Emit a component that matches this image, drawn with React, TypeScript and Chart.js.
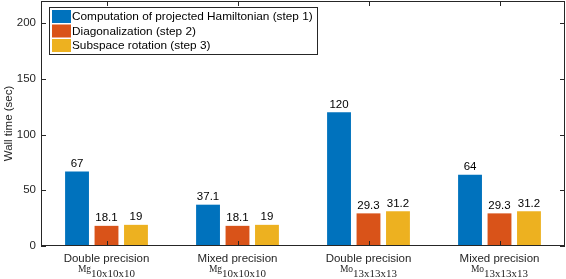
import React, { useEffect, useRef } from "react";
import { Chart, registerables } from "chart.js";

Chart.register(...registerables);

const categories = ["Double precision", "Mixed precision", "Double precision", "Mixed precision"];
const elements = ["Mg", "Mg", "Mo", "Mo"];
const sizes = ["10x10x10", "10x10x10", "13x13x13", "13x13x13"];
const seriesNames = [
  "Computation of projected Hamiltonian (step 1)",
  "Diagonalization (step 2)",
  "Subspace rotation (step 3)",
];
const step1 = [67, 37.1, 120, 64];
const step2 = [18.1, 18.1, 29.3, 29.3];
const step3 = [19, 19, 31.2, 31.2];
const yTicks = [0, 50, 100, 150, 200];
const colors = ["#0072BD", "#D95319", "#EDB120"];

const SANS = "'Liberation Sans', Arial, sans-serif";
const SERIF = "'Liberation Serif', 'Times New Roman', serif";
const AX = "#262626";

const overlay = {
  id: "overlay",
  afterDatasetsDraw(chart: any) {
    const ctx = chart.ctx;
    const { left, right, top, bottom } = chart.chartArea;
    const xs = chart.scales.x;
    const ys = chart.scales.y;
    ctx.save();
    // data labels
    ctx.fillStyle = "#000";
    ctx.font = `11.5px ${SANS}`;
    ctx.textAlign = "center";
    ctx.textBaseline = "bottom";
    chart.data.datasets.forEach((ds: any, di: number) => {
      const meta = chart.getDatasetMeta(di);
      meta.data.forEach((el: any, i: number) => {
        ctx.fillText(String(ds.data[i]), el.x, el.y - 2);
      });
    });
    // box
    ctx.strokeStyle = AX;
    ctx.lineWidth = 1;
    ctx.strokeRect(Math.round(left) + 0.5, Math.round(top) + 0.5, Math.round(right - left) - 1, Math.round(bottom - top) - 1);
    // ticks
    ctx.beginPath();
    yTicks.forEach((v) => {
      const y = Math.round(ys.getPixelForValue(v)) + 0.5;
      ctx.moveTo(left, y);
      ctx.lineTo(left + 5, y);
      ctx.moveTo(right, y);
      ctx.lineTo(right - 5, y);
    });
    categories.forEach((_, i) => {
      const x = Math.round(xs.getPixelForValue(i)) + 0.5;
      ctx.moveTo(x, bottom);
      ctx.lineTo(x, bottom - 5);
      ctx.moveTo(x, top);
      ctx.lineTo(x, top + 5);
    });
    ctx.stroke();
    // x labels
    categories.forEach((c, i) => {
      const x = xs.getPixelForValue(i);
      ctx.fillStyle = AX;
      ctx.textAlign = "center";
      ctx.textBaseline = "alphabetic";
      ctx.font = `11.5px ${SANS}`;
      ctx.fillText(c, x, bottom + 16);
      ctx.font = `9.5px ${SERIF}`;
      const w1 = ctx.measureText(elements[i]).width;
      ctx.font = `11px ${SERIF}`;
      const w2 = ctx.measureText(sizes[i]).width;
      const x0 = x - (w1 + w2) / 2;
      ctx.textAlign = "left";
      ctx.font = `9.5px ${SERIF}`;
      ctx.fillText(elements[i], x0, bottom + 26);
      ctx.font = `11px ${SERIF}`;
      ctx.fillText(sizes[i], x0 + w1, bottom + 31);
    });
    // legend
    const lx = left + 8.5;
    const ly = top + 6.5;
    const lw = 268;
    const lh = 47;
    ctx.fillStyle = "#fff";
    ctx.fillRect(lx, ly, lw, lh);
    ctx.strokeStyle = AX;
    ctx.strokeRect(lx, ly, lw, lh);
    seriesNames.forEach((n, i) => {
      const ry = ly + 2.5 + i * 14.5;
      ctx.fillStyle = colors[i];
      ctx.fillRect(lx + 2.5, ry, 19, 13);
      ctx.fillStyle = "#000";
      ctx.font = `11.8px ${SANS}`;
      ctx.textAlign = "left";
      ctx.textBaseline = "middle";
      ctx.fillText(n, lx + 22.5, ry + 7);
    });
    ctx.restore();
  },
};

export default function App() {
  const ref = useRef<HTMLCanvasElement>(null);
  useEffect(() => {
    if (!ref.current) return;
    const chart = new Chart(ref.current, {
      type: "bar",
      data: {
        labels: categories,
        datasets: [step1, step2, step3].map((d, i) => ({
          label: seriesNames[i],
          data: d,
          backgroundColor: colors[i],
          borderWidth: 0,
          categoryPercentage: 0.675,
          barPercentage: 0.81,
        })),
      },
      options: {
        animation: false,
        responsive: true,
        maintainAspectRatio: false,
        layout: { padding: { top: 1, right: 1, left: 0, bottom: 0 } },
        plugins: { legend: { display: false }, tooltip: { enabled: false } },
        scales: {
          x: {
            grid: { display: false },
            border: { display: false },
            ticks: { display: false },
            afterFit: (s: any) => {
              s.height = 33;
              s.paddingLeft = 0;
              s.paddingRight = 0;
            },
          },
          y: {
            min: 0,
            max: 220,
            grid: { display: false, drawTicks: false },
            border: { display: false },
            afterBuildTicks: (s: any) => {
              s.ticks = yTicks.map((v) => ({ value: v }));
            },
            ticks: { padding: 5, color: AX, font: { family: SANS, size: 11.5 } },
            title: {
              display: true,
              text: "Wall time (sec)",
              color: AX,
              font: { family: SANS, size: 11.5 },
              padding: { top: 2, bottom: 0 },
            },
            afterFit: (s: any) => {
              s.width = 41;
              s.paddingTop = 0;
              s.paddingBottom = 0;
            },
          },
        },
      },
      plugins: [overlay],
    });
    return () => chart.destroy();
  }, []);
  return (
    <div style={{ position: "absolute", left: 0, top: 0, width: 566, height: 279 }}>
      <canvas ref={ref} />
    </div>
  );
}
